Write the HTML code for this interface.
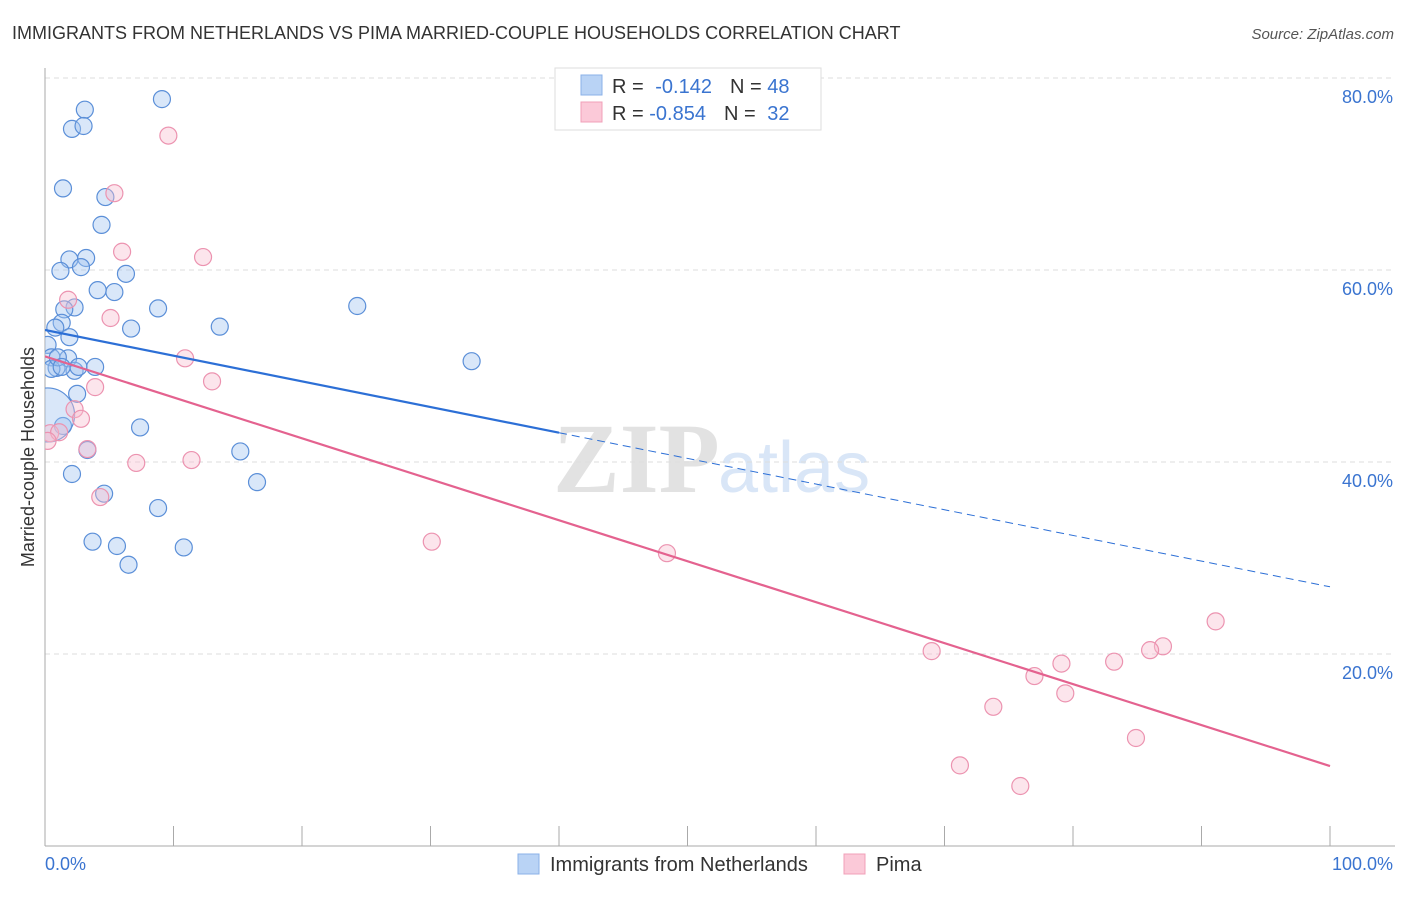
<!DOCTYPE html>
<html><head><meta charset="utf-8"><style>
body{margin:0;background:#fff;font-family:"Liberation Sans",sans-serif}
</style></head><body>
<svg id="c" width="1406" height="892" xmlns="http://www.w3.org/2000/svg">
<defs><clipPath id="plot"><rect x="45" y="60" width="1360" height="786"/></clipPath></defs>
<text x="12" y="39" font-size="18" fill="#333">IMMIGRANTS FROM NETHERLANDS VS PIMA MARRIED-COUPLE HOUSEHOLDS CORRELATION CHART</text>
<text x="1394" y="39" font-size="15" fill="#555" font-style="italic" text-anchor="end">Source: ZipAtlas.com</text>
<text x="553" y="492" font-size="100" fill="#e2e2e2" font-family="Liberation Serif" font-weight="bold">ZIP</text>
<text x="718" y="492" font-size="72" fill="#d9e6f7">atlas</text>
<g id="grid"></g><g id="marks" clip-path="url(#plot)"></g>
<text transform="translate(34,457) rotate(-90)" font-size="18" fill="#333" text-anchor="middle">Married-couple Households</text>
<g>
<rect x="555" y="68" width="266" height="62" fill="#fff" stroke="#ddd"/>
<rect x="581" y="75" width="21" height="20" fill="#b9d3f5" stroke="#8ab0e8"/>
<rect x="581" y="102" width="21" height="20" fill="#fbc9d8" stroke="#f0a0b8"/>
<text x="612" y="93" font-size="20" fill="#333">R = <tspan fill="#3a74d0" dx="6">-0.142</tspan><tspan dx="18" fill="#333">N = </tspan><tspan fill="#3a74d0">48</tspan></text>
<text x="612" y="120" font-size="20" fill="#333">R = <tspan fill="#3a74d0">-0.854</tspan><tspan dx="18" fill="#333">N = </tspan><tspan fill="#3a74d0" dx="6">32</tspan></text>
</g>
<g>
<rect x="518" y="854" width="21" height="20" fill="#b9d3f5" stroke="#8ab0e8"/>
<text x="550" y="871" font-size="20" fill="#333">Immigrants from Netherlands</text>
<rect x="844" y="854" width="21" height="20" fill="#fbc9d8" stroke="#f0a0b8"/>
<text x="876" y="871" font-size="20" fill="#333">Pima</text>
</g>
</svg>
<script>
const blueX=[9.1,3.1,2.1,3.0,1.4,4.7,4.4,1.9,3.2,1.2,2.8,6.3,4.1,5.4,8.8,24.3,2.3,1.5,1.3,0.8,6.7,13.6,1.9,0.2,0.5,1.8,33.2,0.9,3.9,2.3,2.6,0.5,2.5,7.4,1.4,15.2,3.3,2.1,16.5,4.6,8.8,3.7,5.6,10.8,6.5,1.0,1.3];
const blueY=[77.8,76.7,74.7,75.0,68.5,67.6,64.7,61.1,61.25,59.9,60.3,59.6,57.9,57.7,56.0,56.25,56.1,55.9,54.5,54.0,53.9,54.1,53.0,52.2,50.9,50.8,50.5,49.8,49.9,49.5,49.9,49.7,47.1,43.6,43.75,41.1,41.25,38.75,37.9,36.7,35.2,31.7,31.25,31.1,29.3,50.9,49.9];
const pinkX=[9.6,5.4,6.0,12.3,1.8,5.1,10.9,13.0,3.9,2.3,2.8,0.4,1.1,0.2,3.3,7.1,11.4,4.3,30.1,48.4,69.0,91.1,87.0,86.0,83.2,79.1,77.0,79.4,73.8,84.9,71.2,75.9];
const pinkY=[74.0,68.0,61.9,61.35,56.9,55.0,50.8,48.4,47.8,45.5,44.5,43.0,43.1,42.2,41.35,39.9,40.2,36.35,31.7,30.5,20.3,23.4,20.8,20.4,19.2,19.0,17.7,15.9,14.5,11.25,8.4,6.25];
const bigBlue=[[0.2,44.9]];
const trendBlue=[53.75,27.0], trendPink=[51.0,8.33];
const yTicks=[20,40,60,80];
const xTickLabels=["0.0%","100.0%"];
const sx=v=>45+v*12.85, sy=v=>846-v*9.6;
const NS="http://www.w3.org/2000/svg";
const g=document.getElementById('grid'), m=document.getElementById('marks');
function mk(tag,attrs,parent){const e=document.createElementNS(NS,tag);for(const k in attrs)e.setAttribute(k,attrs[k]);parent.appendChild(e);return e;}
yTicks.forEach(t=>{
 const l=mk('line',{x1:45,x2:1395,y1:sy(t),y2:sy(t),stroke:'#ddd','stroke-dasharray':'5,4'},g);
 
 
 const tx=mk('text',{x:1393,y:sy(t)+25,'font-size':18,fill:'#3a74d0','text-anchor':'end'},g);
 tx.textContent=t+'.0%';
 
 
});
const ax=mk('line',{x1:45,x2:45,y1:68,y2:846,stroke:'#aaa'},g);


const bx=mk('line',{x1:45,x2:1395,y1:846,y2:846,stroke:'#aaa'},g);


for(let i=0;i<=10;i++){
 const t=mk('line',{x1:sx(i*10),x2:sx(i*10),y1:826,y2:846,stroke:'#aaa'},g);
 
 
}
const xl0=mk('text',{x:45,y:870,'font-size':18,fill:'#3a74d0'},g);xl0.textContent=xTickLabels[0];


const xl1=mk('text',{x:1393,y:870,'font-size':18,fill:'#3a74d0','text-anchor':'end'},g);xl1.textContent=xTickLabels[1];


function dot(x,y,r,fill,stroke,name){const c=mk('circle',{cx:sx(x),cy:sy(y),r:r,fill:fill,stroke:stroke,'stroke-width':1.2},m);
 
 }
blueX.forEach((x,i)=>dot(x,blueY[i],8.5,'rgba(160,196,240,0.4)','#5b8fd8','blue-point'));
bigBlue.forEach(p=>dot(p[0],p[1],27,'rgba(160,196,240,0.4)','#5b8fd8','blue-point-large'));
pinkX.forEach((x,i)=>dot(x,pinkY[i],8.5,'rgba(248,190,208,0.4)','#ec93b0','pink-point'));
const bs=trendBlue[0]+(trendBlue[1]-trendBlue[0])*0.4;
const l1=mk('line',{x1:sx(0),y1:sy(trendBlue[0]),x2:sx(40),y2:sy(bs),stroke:'#2c6fd6','stroke-width':2.2},m);


const l2=mk('line',{x1:sx(40),y1:sy(bs),x2:sx(100),y2:sy(trendBlue[1]),stroke:'#2c6fd6','stroke-width':1,'stroke-dasharray':'8,5'},m);


const l3=mk('line',{x1:sx(0),y1:sy(trendPink[0]),x2:sx(100),y2:sy(trendPink[1]),stroke:'#e4628f','stroke-width':2.2},m);


</script>
</body></html>
